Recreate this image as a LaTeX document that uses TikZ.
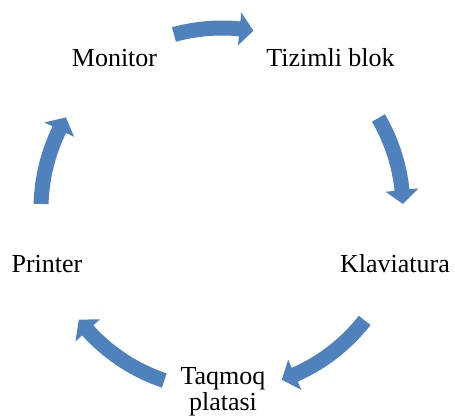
\documentclass[tikz,border=0pt]{standalone}
\usepackage{fontspec}
\setmainfont{Liberation Serif}
\definecolor{arrowblue}{HTML}{4F81BD}
\tikzset{
  lbl/.style={font=\fontsize{26}{26}\selectfont, inner sep=0pt, anchor=base, text=black, align=center},
  cyc/.style={fill=arrowblue, draw=none}
}
\newcommand{\cycarr}[2]{%
  \pgfmathsetmacro{\hb}{#2+4.4}%
  \fill[cyc] (#1:188.5pt) arc[start angle=#1, end angle=\hb, radius=188.5pt]
    -- (\hb:197.5pt) -- (#2:181pt) -- (\hb:164.5pt) -- (\hb:173.5pt)
    arc[start angle=\hb, end angle=#1, radius=173.5pt] -- cycle;}
\begin{document}
\begin{tikzpicture}[x=1pt,y=1pt]
\useasboundingbox (0,0) rectangle (455,416);
\begin{scope}[shift={(222,207)}]
  \cycarr{105.4}{80}
  \cycarr{30.2}{1.6}
  \cycarr{-38}{-70.7}
  \cycarr{-108.6}{-142.3}
  \cycarr{178.4}{149.6}
\end{scope}
\node[lbl] (monitor) at (114.5,349) {Monitor};
\node[lbl] (blok) at (330.5,349) {Tizimli blok};
\node[lbl] (klav) at (395,144) {Klaviatura};
\node[lbl] (printer) at (47,144) {Printer};
\node[lbl] (taqmoq) at (223,6) {Taqmoq\\platasi};
\end{tikzpicture}
\end{document}
